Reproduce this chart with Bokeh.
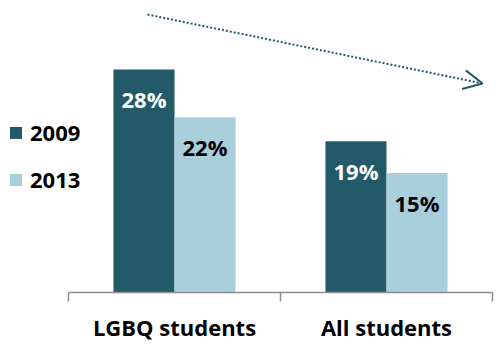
from bokeh.plotting import figure
from bokeh.models import ColumnDataSource, Range1d, FixedTicker, Legend, LegendItem, Arrow, OpenHead
from bokeh.transform import dodge
from bokeh.core.properties import value
from bokeh.embed import file_html
from bokeh.resources import INLINE

# ---- data ----
categories = ["LGBQ students", "All students"]
years = ["2009", "2013"]
values_2009 = [28, 19]
values_2013 = [22, 15]
labels_2009 = ["28%", "19%"]
labels_2013 = ["22%", "15%"]

# ---- styling ----
FONT = "Open Sans"
DARK = "#225A69"
LIGHT = "#A9CFDD"
AXIS = "#8C8C8C"
BAR_W = 0.288
OFF = 0.144

src = ColumnDataSource(dict(
    x=[i + 0.5 for i in range(len(categories))],
    v2009=values_2009, v2013=values_2013,
    l2009=labels_2009, l2013=labels_2013,
))

p = figure(width=498, height=349,
           x_range=Range1d(-68 / 212, 430 / 212), y_range=Range1d(0, 36.66),
           output_backend="svg", toolbar_location=None, y_axis_location=None,
           min_border_left=0, min_border_right=0, min_border_top=0, min_border_bottom=57)
p.outline_line_color = None
p.grid.visible = False
p.background_fill_color = "white"
p.border_fill_color = "white"

r1 = p.vbar(x=dodge("x", -OFF), top="v2009", width=BAR_W, source=src,
            fill_color=DARK, line_color=None)
r2 = p.vbar(x=dodge("x", OFF), top="v2013", width=BAR_W, source=src,
            fill_color=LIGHT, line_color=None)

common = dict(text_align="center", text_baseline="middle", y_offset=30,
              text_font=value(FONT), text_font_style="bold", text_font_size="22px")
p.text(x=dodge("x", -OFF), y="v2009", text="l2009", source=src, text_color="white", **common)
p.text(x=dodge("x", OFF), y="v2013", text="l2013", source=src, text_color="black", **common)

ax = p.xaxis[0]
ax.ticker = FixedTicker(ticks=[i + 0.5 for i in range(len(categories))],
                        minor_ticks=list(range(len(categories) + 1)))
ax.major_label_overrides = {i + 0.5: c for i, c in enumerate(categories)}
ax.bounds = (0, len(categories))
ax.axis_line_color = AXIS
ax.axis_line_width = 1.5
ax.major_tick_line_color = None
ax.major_tick_out = 0
ax.major_tick_in = 0
ax.minor_tick_line_color = AXIS
ax.minor_tick_line_width = 1.5
ax.minor_tick_out = 9
ax.minor_tick_in = 0
ax.major_label_standoff = 10
ax.major_label_text_font = FONT
ax.major_label_text_font_style = "bold"
ax.major_label_text_font_size = "22px"
ax.major_label_text_color = "black"

legend = Legend(items=[LegendItem(label=years[0], renderers=[r1]),
                       LegendItem(label=years[1], renderers=[r2])],
                location=(8, 98), glyph_width=15, glyph_height=15,
                label_standoff=7, label_height=20, spacing=17, padding=0, margin=0,
                border_line_color=None, background_fill_alpha=0,
                label_text_font=FONT, label_text_font_style="bold",
                label_text_font_size="22px", label_text_color="black",
                label_text_baseline="middle")
p.add_layout(legend)

p.add_layout(Arrow(x_start=0.3726, y_start=34.9, x_end=1.953, y_end=26.24,
                   line_color=DARK, line_width=2, line_dash="2 2",
                   end=OpenHead(size=19, line_color=DARK, line_width=2)))

open("out.html", "w").write(file_html(p, INLINE))
